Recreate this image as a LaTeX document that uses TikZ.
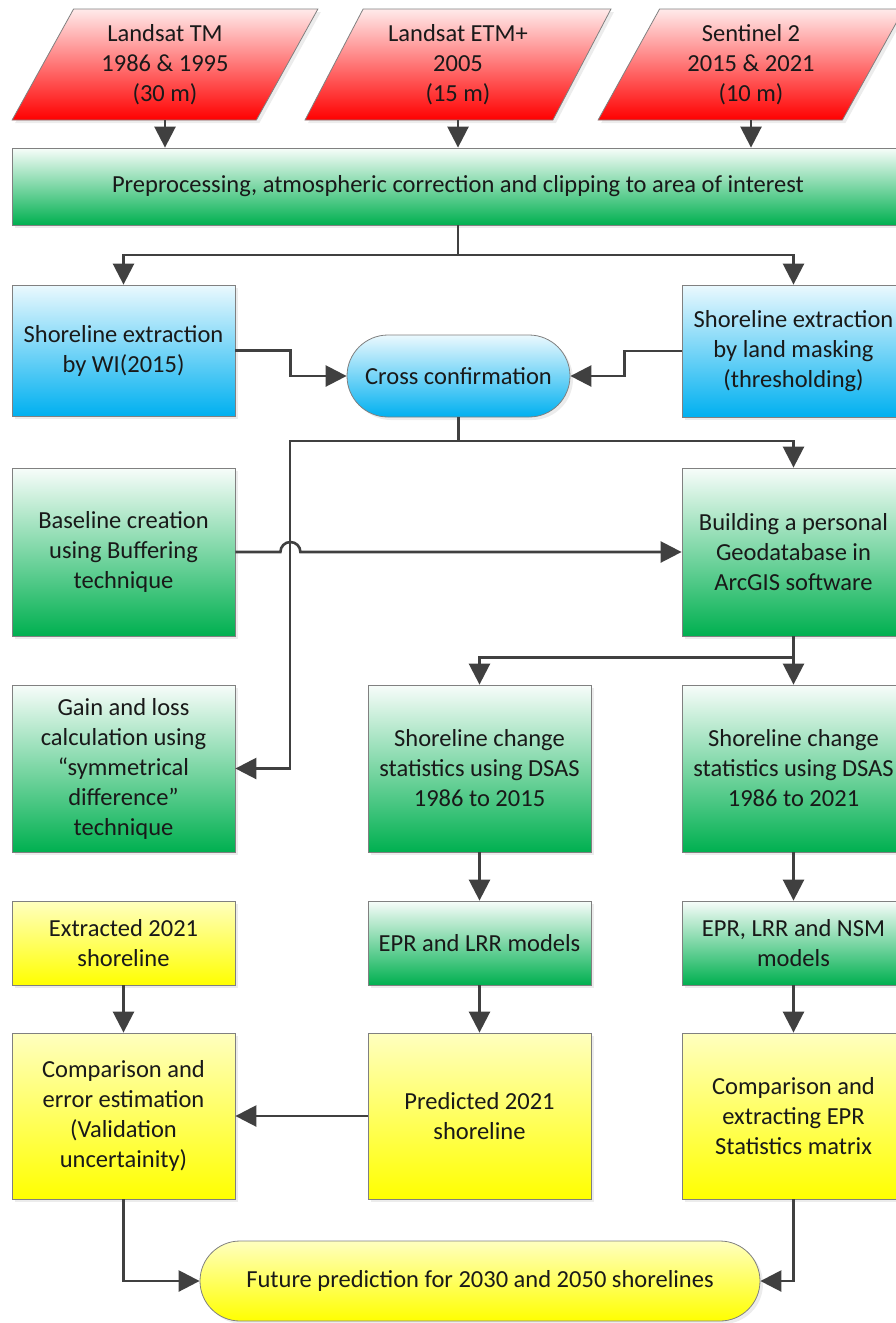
\documentclass[tikz,border=0pt]{standalone}
\usepackage{fontspec}
\setmainfont{Carlito}
\usepackage{tikz}
\usetikzlibrary{shapes.geometric,shapes.misc,arrows.meta,shadows}

\definecolor{linegray}{HTML}{404040}
\definecolor{edgegray}{HTML}{808080}
\definecolor{msred}{HTML}{FF0000}
\definecolor{msgreen}{HTML}{00B050}
\definecolor{msblue}{HTML}{00B0F0}
\definecolor{msyellow}{HTML}{FFFF00}

\tikzset{
  boxbase/.style={draw=edgegray, line width=0.8pt, align=center, inner sep=0pt,
    text=black!90, font=\fontsize{24.5}{30}\selectfont,
    drop shadow={shadow xshift=3pt, shadow yshift=-3pt, opacity=0.15}},
  datainput/.style={boxbase, trapezium, trapezium left angle=62,
    trapezium right angle=118, trapezium stretches=true,
    minimum width=306pt, minimum height=111pt,
    top color=msred!8, bottom color=msred},
  greenbox/.style={boxbase, rectangle, top color=msgreen!3, bottom color=msgreen},
  bluebox/.style={boxbase, rectangle, top color=msblue!8, bottom color=msblue},
  yellowbox/.style={boxbase, rectangle, top color=msyellow!25, bottom color=msyellow},
  terminal/.style={boxbase, rounded rectangle},
  flow/.style={draw=linegray, line width=2.6pt,
    -{Triangle[length=21pt, width=21pt]}},
  plainflow/.style={draw=linegray, line width=2.6pt}
}

\begin{document}
\begin{tikzpicture}[x=1pt, y=-1pt]
  % Sizes
  \pgfmathsetmacro{\boxw}{223}
  \useasboundingbox (0,0) rectangle (896,1323);

  % input data
  \node[datainput] (tm)  at (165,64.5) {Landsat TM\\1986 \& 1995\\(30 m)};
  \node[datainput] (etm) at (458,64.5) {Landsat ETM+\\2005\\(15 m)};
  \node[datainput] (sen) at (751,64.5) {Sentinel 2\\2015 \& 2021\\(10 m)};

  \node[greenbox, minimum width=892pt, minimum height=77pt] (prep) at (458,186.5)
    {Preprocessing, atmospheric correction and clipping to area of interest};

  % shoreline extraction
  \node[bluebox, minimum width=\boxw pt, minimum height=131pt] (wi) at (123.5,350.5)
    {Shoreline extraction\\by WI(2015)};
  \node[bluebox, minimum width=\boxw pt, minimum height=132pt] (mask) at (793.5,351)
    {Shoreline extraction\\by land masking\\(thresholding)};
  \node[terminal, top color=msblue!8, bottom color=msblue,
    minimum width=\boxw pt, minimum height=82pt] (cross) at (458.5,376)
    {Cross confirmation};

  % geodatabase
  \node[greenbox, minimum width=\boxw pt, minimum height=168pt] (base) at (123.5,552)
    {Baseline creation\\using Buffering\\technique};
  \node[greenbox, minimum width=\boxw pt, minimum height=168pt] (geo) at (793.5,552)
    {Building a personal\\Geodatabase in\\ArcGIS software};

  % statistics
  \node[greenbox, minimum width=\boxw pt, minimum height=167pt] (gain) at (123.5,768.5)
    {Gain and loss\\calculation using\\“symmetrical\\difference”\\technique};
  \node[greenbox, minimum width=\boxw pt, minimum height=167pt] (dsas1) at (479.5,768.5)
    {Shoreline change\\statistics using DSAS\\1986 to 2015};
  \node[greenbox, minimum width=\boxw pt, minimum height=167pt] (dsas2) at (793.5,768.5)
    {Shoreline change\\statistics using DSAS\\1986 to 2021};

  \node[yellowbox, minimum width=\boxw pt, minimum height=84pt] (extr) at (123.5,943)
    {Extracted 2021\\shoreline};
  \node[greenbox, minimum width=\boxw pt, minimum height=84pt] (lrr) at (479.5,943)
    {EPR and LRR models};
  \node[greenbox, minimum width=\boxw pt, minimum height=84pt] (nsm) at (793.5,943)
    {EPR, LRR and NSM\\models};

  % validation and prediction
  \node[yellowbox, minimum width=\boxw pt, minimum height=166pt] (comp) at (123.5,1116)
    {Comparison and\\error estimation\\(Validation\\uncertainity)};
  \node[yellowbox, minimum width=\boxw pt, minimum height=166pt] (pred) at (479.5,1116)
    {Predicted 2021\\shoreline};
  \node[yellowbox, minimum width=\boxw pt, minimum height=166pt] (matrix) at (793.5,1116)
    {Comparison and\\extracting EPR\\Statistics matrix};
  \node[terminal, top color=msyellow!25, bottom color=msyellow,
    minimum width=560pt, minimum height=80pt] (future) at (480,1281)
    {Future prediction for 2030 and 2050 shorelines};

  % junctions
  \coordinate (split) at (458,255);
  \coordinate (join) at (458.5,441);
  \coordinate (left) at (290,441);

  % draw diagram
  \draw[flow] (tm.south) -- (tm.south |- prep.north);
  \draw[flow] (etm.south) -- (etm.south |- prep.north);
  \draw[flow] (sen.south) -- (sen.south |- prep.north);
  \draw[plainflow] (prep.south) -- (split);
  \draw[flow] (split) -| (wi.north);
  \draw[flow] (split) -| (mask.north);
  \draw[flow] (wi.east) -- ++(55,0) |- (cross.west);
  \draw[flow] (mask.west) -- ++(-57,0) |- (cross.east);
  \draw[plainflow] (cross.south) -- (join);
  \draw[flow] (join) -| (geo.north);
  \draw[flow] (join) -- (left) |- (gain.east);
  \draw[flow] (base.east) -- ++(45,0)
    arc[start angle=180, end angle=360, radius=10] -- (geo.west);
  \draw[flow] (geo.south) -- ++(0,21) -| (dsas1.north);
  \draw[flow] (geo.south) -- (dsas2.north);
  \draw[flow] (dsas1.south) -- (lrr.north);
  \draw[flow] (dsas2.south) -- (nsm.north);
  \draw[flow] (extr.south) -- (comp.north);
  \draw[flow] (lrr.south) -- (pred.north);
  \draw[flow] (nsm.south) -- (matrix.north);
  \draw[flow] (pred.west) -- (comp.east);
  \draw[flow] (comp.south) |- (future.west);
  \draw[flow] (matrix.south) |- (future.east);
\end{tikzpicture}
\end{document}
